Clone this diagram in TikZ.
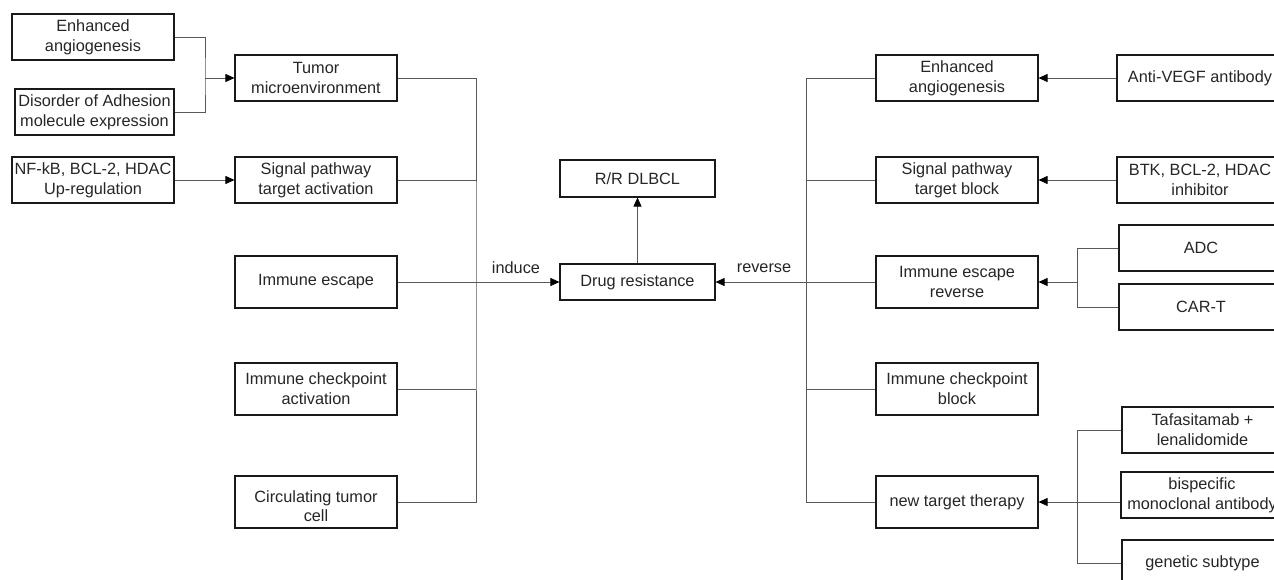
\documentclass[tikz,border=0pt]{standalone}
\usepackage{fontspec}
\setmainfont{Liberation Sans}
\usetikzlibrary{arrows.meta}
\begin{document}
\begin{tikzpicture}[x=1pt,y=-1pt,
  bx/.style={draw=black!90,line width=1.1pt,align=center,inner sep=0pt,text=black!85,
    font=\fontsize{16.3}{20}\selectfont},
  w162/.style={minimum width=162pt},
  conn/.style={draw=black!65,line width=0.8pt},
  arr/.style={conn,-{Triangle[length=9pt,width=8pt,fill=black,color=black]}},
  lbl/.style={text=black!85,font=\fontsize{16.3}{20}\selectfont,inner sep=0pt}]
\useasboundingbox (0,0) rectangle (1274,580);
\clip (0,0) rectangle (1274,580);
\fill[white] (0,0) rectangle (1274,580);
% left outer column
\node[bx,w162,minimum height=46pt] (ea) at (93,37) {Enhanced\\angiogenesis};
\node[bx,minimum width=159pt,minimum height=46pt] (dis) at (94.5,112) {Disorder of Adhesion\\molecule expression};
\node[bx,w162,minimum height=46pt] (nfkb) at (93,180) {NF-kB, BCL-2, HDAC\\Up-regulation};
% left inner column
\node[bx,w162,minimum height=46pt] (tme) at (316,78) {Tumor\\microenvironment};
\node[bx,w162,minimum height=46pt] (spa) at (316,180) {Signal pathway\\target activation};
\node[bx,w162,minimum height=52pt] (ie) at (316,282) {Immune escape};
\node[bx,w162,minimum height=52pt] (ica) at (316,389) {Immune checkpoint\\activation};
\node[bx,w162,minimum height=52pt] (ctc) at (316,502) {\raisebox{-6pt}[\height][\depth]{\begin{tabular}{@{}c@{}}Circulating tumor\\[-1pt]cell\end{tabular}}};
% centre
\node[bx,minimum width=155pt,minimum height=37pt] (rr) at (637.5,178.5) {R/R DLBCL};
\node[bx,minimum width=155pt,minimum height=36pt] (dr) at (637.5,282) {Drug resistance};
\node[lbl] (ind) at (516,268) {induce};
\node[lbl] (rev) at (764,268) {reverse};
% right inner column
\node[bx,w162,minimum height=46pt] (rea) at (957,78) {Enhanced\\angiogenesis};
\node[bx,w162,minimum height=46pt] (spb) at (957,180) {Signal pathway\\target block};
\node[bx,w162,minimum height=52pt] (ier) at (957,282) {Immune escape\\reverse};
\node[bx,w162,minimum height=52pt] (icb) at (957,389) {Immune checkpoint\\block};
\node[bx,w162,minimum height=52pt] (ntt) at (957,502) {new target therapy};
% right outer column
\node[bx,minimum width=166pt,minimum height=46pt] (vegf) at (1200,78) {Anti-VEGF antibody};
\node[bx,minimum width=166pt,minimum height=46pt] (btk) at (1200,180) {BTK, BCL-2, HDAC\\inhibitor};
\node[bx,minimum width=164pt,minimum height=46pt] (adc) at (1201,248) {ADC};
\node[bx,minimum width=164pt,minimum height=46pt] (cart) at (1201,307) {CAR-T};
\node[bx,minimum width=161pt,minimum height=46pt] (taf) at (1202.5,430) {Tafasitamab +\\lenalidomide};
\node[bx,minimum width=162pt,minimum height=46pt] (bsp) at (1202,495) {bispecific\\monoclonal antibody};
\node[bx,minimum width=161pt,minimum height=46pt] (gen) at (1202.5,563) {genetic subtype};
% left connectors
\coordinate (j1) at (205,78);
\draw[conn] (ea.east) -| (j1) |- (dis.east);
\draw[arr] (j1) -- (tme.west);
\draw[arr] (nfkb.east) -- (spa.west);
\coordinate (tl) at (476,282);
\draw[conn] (tme.east) -| (tl) |- (ctc.east);
\draw[conn] (spa.east) -- (spa.east -| tl);
\draw[conn] (ica.east) -- (ica.east -| tl);
\draw[arr] (ie.east) -- (dr.west);
\draw[arr] (dr.north) -- (rr.south);
% right connectors
\coordinate (tr) at (806,282);
\draw[conn] (rea.west) -| (tr) |- (ntt.west);
\draw[conn] (spb.west) -- (spb.west -| tr);
\draw[conn] (icb.west) -- (icb.west -| tr);
\draw[arr] (ier.west) -- (dr.east);
\draw[arr] (vegf.west) -- (rea.east);
\draw[arr] (btk.west) -- (spb.east);
\coordinate (j2) at (1077,282);
\draw[conn] (adc.west) -| (j2) |- (cart.west);
\draw[arr] (j2) -- (ier.east);
\coordinate (j3) at (1077,502);
\draw[conn] (taf.west) -| (j3) |- (gen.west);
\draw[arr] (bsp.west |- ntt.east) -- (ntt.east);
\end{tikzpicture}
\end{document}
